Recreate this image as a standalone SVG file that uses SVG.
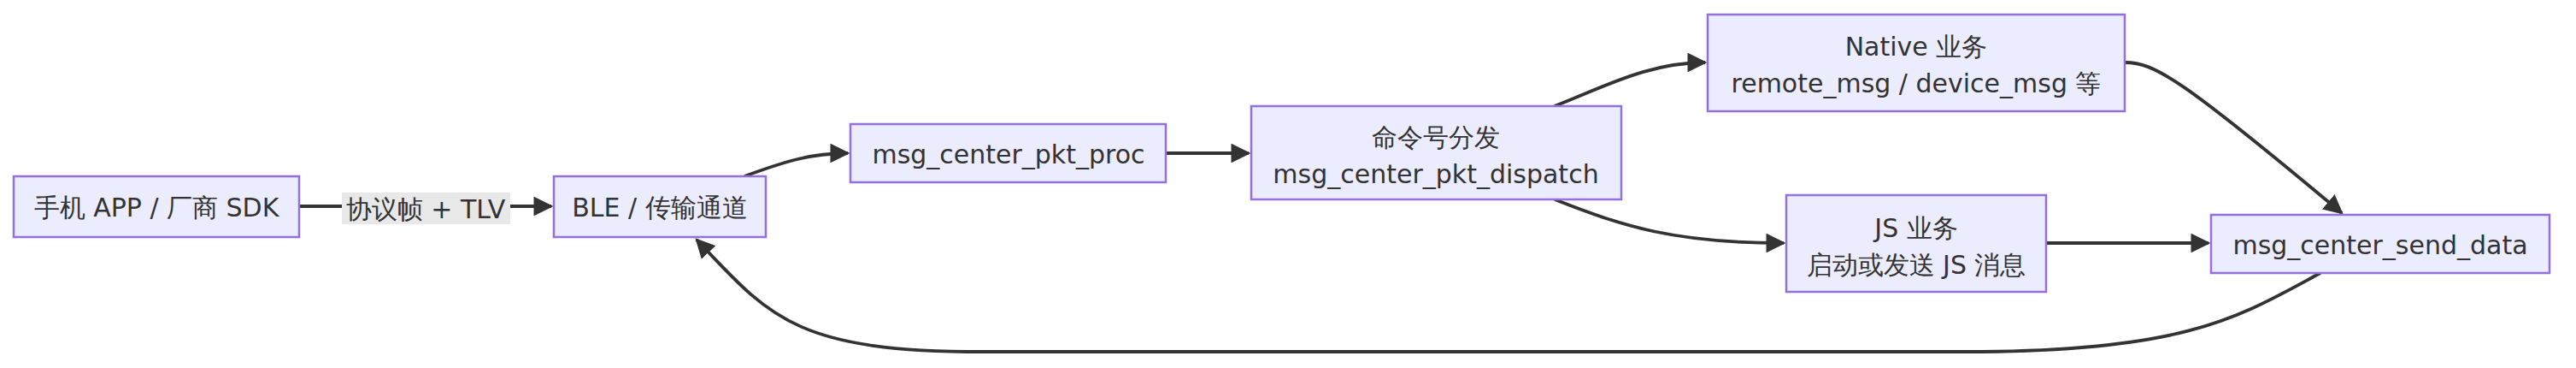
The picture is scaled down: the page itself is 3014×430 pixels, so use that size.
<svg xmlns="http://www.w3.org/2000/svg" width="3014" height="430" viewBox="0 0 3014 430">
<style>
.n rect{fill:#ECECFF;stroke:#9370DB;stroke-width:2.5}
text{font-family:"DejaVu Sans",sans-serif;font-size:30px;fill:#333;text-anchor:middle;dominant-baseline:central}
.e path{fill:none;stroke:#333;stroke-width:3.8}
</style>
<defs><marker id="ar" viewBox="0 0 10 10" refX="9" refY="5" markerWidth="6" markerHeight="6" markerUnits="strokeWidth" orient="auto"><path d="M0,0L10,5L0,10z" fill="#333"/></marker></defs>
<g class="e">
<path d="M350,241H645" marker-end="url(#ar)"/>
<path d="M871,206C920,188 950,179 992,179" marker-end="url(#ar)"/>
<path d="M1364,179H1461" marker-end="url(#ar)"/>
<path d="M1819,124C1880,100 1930,73 1995,73" marker-end="url(#ar)"/>
<path d="M1819,233C1900,265 1960,284 2087,284" marker-end="url(#ar)"/>
<path d="M2394,284H2584" marker-end="url(#ar)"/>
<path d="M2486,73C2520,73 2550,90 2740,249" marker-end="url(#ar)"/>
<path d="M2715,319C2620,370 2560,411 2300,411H1150C930,411 900,370 815,280" marker-end="url(#ar)"/>
</g>
<g id="lbl"><rect x="400" y="225" width="197" height="37" fill="#e8e8e8"/><text x="498" y="244">协议帧 + TLV</text></g>
<g id="A" class="n"><rect x="16" y="206" width="334" height="71"/><text x="183" y="242">手机 APP / 厂商 SDK</text></g>
<g id="B" class="n"><rect x="648" y="206" width="248" height="71"/><text x="772" y="242">BLE / 传输通道</text></g>
<g id="C" class="n"><rect x="995" y="145" width="369" height="68"/><text x="1180" y="180">msg_center_pkt_proc</text></g>
<g id="D" class="n"><rect x="1464" y="124" width="433" height="109"/><text x="1680" y="160">命令号分发</text><text x="1680" y="203">msg_center_pkt_dispatch</text></g>
<g id="E" class="n"><rect x="1998" y="17" width="488" height="113"/><text x="2242" y="54">Native 业务</text><text x="2242" y="97">remote_msg / device_msg 等</text></g>
<g id="F" class="n"><rect x="2090" y="228" width="304" height="113"/><text x="2242" y="266">JS 业务</text><text x="2242" y="309">启动或发送 JS 消息</text></g>
<g id="G" class="n"><rect x="2587" y="251" width="396" height="68"/><text x="2785" y="286">msg_center_send_data</text></g>
</svg>
